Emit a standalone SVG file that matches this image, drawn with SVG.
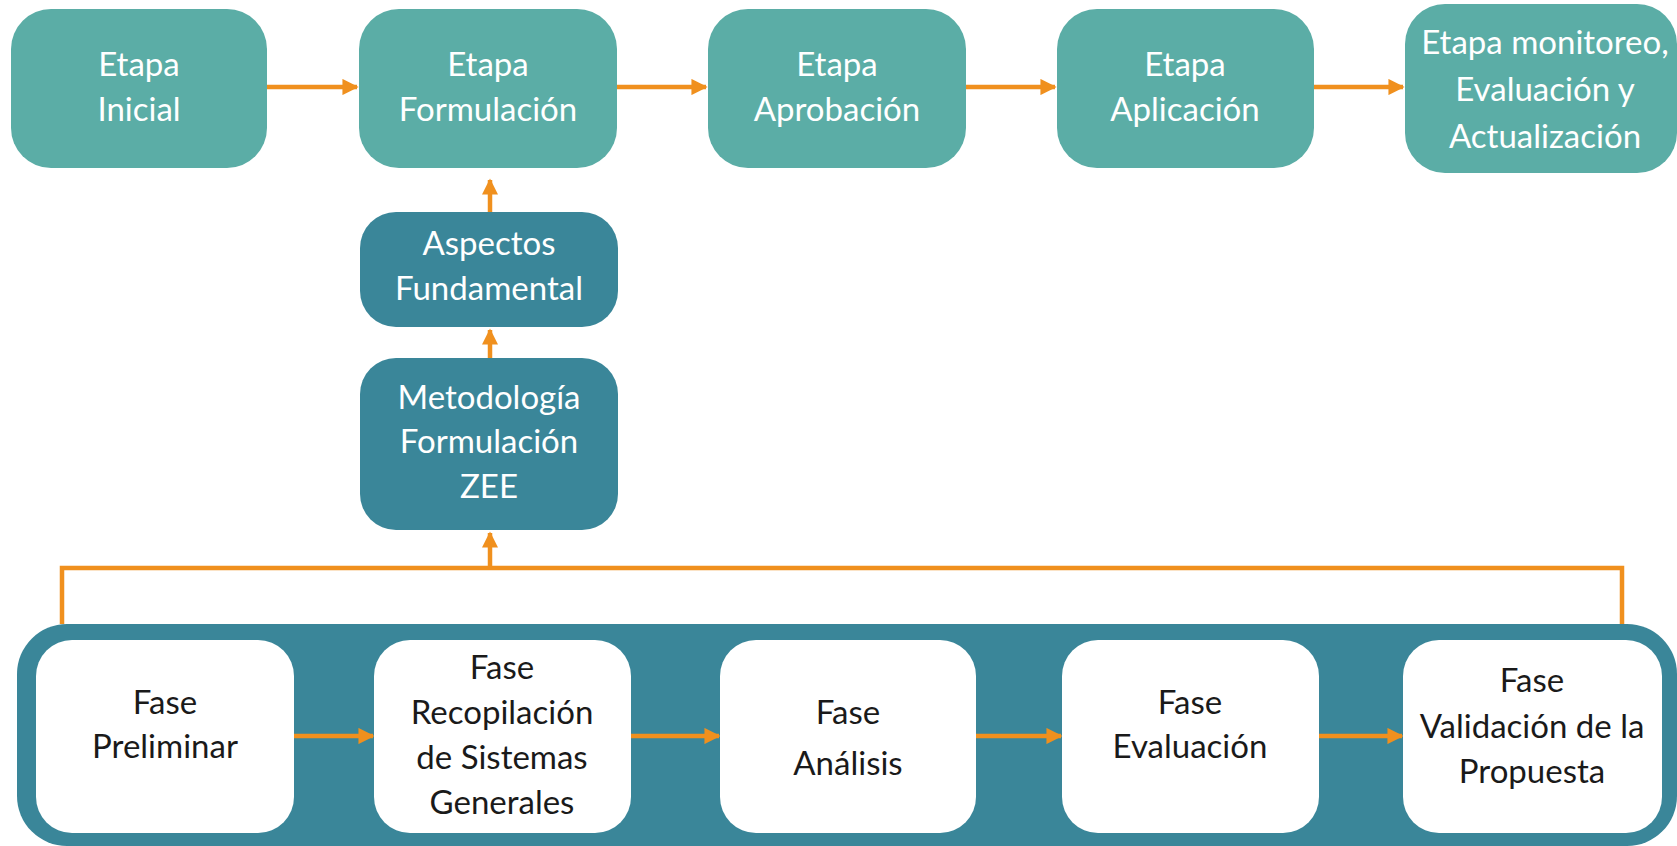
<svg xmlns="http://www.w3.org/2000/svg" width="1677" height="846" viewBox="0 0 1677 846">
<defs>
<style>
.top{fill:#5BADA6;}
.dark{fill:#3A8699;}
.white{fill:#FFFFFF;}
.t{font-family:Lato,"Open Sans","Liberation Sans",sans-serif;font-size:33px;text-anchor:middle;}
.tw{fill:#FFFFFF;}
.tb{fill:#1A1A1A;}
.con{stroke:#F0901E;stroke-width:4.5;fill:none;}
</style>
<marker id="ah" viewBox="0 0 10 10" refX="9" refY="5" markerWidth="3.6" markerHeight="3.6" orient="auto" markerUnits="strokeWidth">
<path d="M0,0 L10,5 L0,10 z" fill="#F0901E"/>
</marker>
</defs>
<rect width="1677" height="846" fill="#FFFFFF"/>
<g id="container">
<rect class="dark" x="17" y="624" width="1660" height="222" rx="50"/>
</g>
<g id="connectors">
<line class="con" x1="267" y1="87" x2="357" y2="87" marker-end="url(#ah)"/>
<line class="con" x1="617" y1="87" x2="706" y2="87" marker-end="url(#ah)"/>
<line class="con" x1="966" y1="87" x2="1055" y2="87" marker-end="url(#ah)"/>
<line class="con" x1="1314" y1="87" x2="1403" y2="87" marker-end="url(#ah)"/>
<line class="con" x1="490" y1="212" x2="490" y2="180" marker-end="url(#ah)"/>
<line class="con" x1="490" y1="358" x2="490" y2="330" marker-end="url(#ah)"/>
<line class="con" x1="490" y1="568" x2="490" y2="533" marker-end="url(#ah)"/>
<polyline class="con" points="62,624 62,568 1622,568 1622,624"/>
<line class="con" x1="294" y1="736" x2="373" y2="736" marker-end="url(#ah)"/>
<line class="con" x1="631" y1="736" x2="719" y2="736" marker-end="url(#ah)"/>
<line class="con" x1="976" y1="736" x2="1061" y2="736" marker-end="url(#ah)"/>
<line class="con" x1="1319" y1="736" x2="1402" y2="736" marker-end="url(#ah)"/>
</g>
<g id="etapa-inicial">
<rect class="top" x="11" y="9" width="256" height="159" rx="40"/>
<text class="t tw" x="139" y="76">Etapa</text>
<text class="t tw" x="139" y="121">Inicial</text>
</g>
<g id="etapa-formulacion">
<rect class="top" x="359" y="9" width="258" height="159" rx="40"/>
<text class="t tw" x="488" y="76">Etapa</text>
<text class="t tw" x="488" y="121">Formulación</text>
</g>
<g id="etapa-aprobacion">
<rect class="top" x="708" y="9" width="258" height="159" rx="40"/>
<text class="t tw" x="837" y="76">Etapa</text>
<text class="t tw" x="837" y="121">Aprobación</text>
</g>
<g id="etapa-aplicacion">
<rect class="top" x="1057" y="9" width="257" height="159" rx="40"/>
<text class="t tw" x="1185" y="76">Etapa</text>
<text class="t tw" x="1185" y="121">Aplicación</text>
</g>
<g id="etapa-monitoreo">
<rect class="top" x="1405" y="4" width="272" height="169" rx="40"/>
<text class="t tw" x="1545" y="54">Etapa monitoreo,</text>
<text class="t tw" x="1545" y="101">Evaluación y</text>
<text class="t tw" x="1545" y="148">Actualización</text>
</g>
<g id="aspectos">
<rect class="dark" x="360" y="212" width="258" height="115" rx="36"/>
<text class="t tw" x="489" y="255">Aspectos</text>
<text class="t tw" x="489" y="300">Fundamental</text>
</g>
<g id="metodologia">
<rect class="dark" x="360" y="358" width="258" height="172" rx="36"/>
<text class="t tw" x="489" y="409">Metodología</text>
<text class="t tw" x="489" y="453">Formulación</text>
<text class="t tw" x="489" y="498">ZEE</text>
</g>
<g id="fase-preliminar">
<rect class="white" x="36" y="640" width="258" height="193" rx="36"/>
<text class="t tb" x="165" y="714">Fase</text>
<text class="t tb" x="165" y="758">Preliminar</text>
</g>
<g id="fase-recopilacion">
<rect class="white" x="374" y="640" width="257" height="193" rx="36"/>
<text class="t tb" x="502" y="679">Fase</text>
<text class="t tb" x="502" y="724">Recopilación</text>
<text class="t tb" x="502" y="769">de Sistemas</text>
<text class="t tb" x="502" y="814">Generales</text>
</g>
<g id="fase-analisis">
<rect class="white" x="720" y="640" width="256" height="193" rx="36"/>
<text class="t tb" x="848" y="724">Fase</text>
<text class="t tb" x="848" y="775">Análisis</text>
</g>
<g id="fase-evaluacion">
<rect class="white" x="1062" y="640" width="257" height="193" rx="36"/>
<text class="t tb" x="1190" y="714">Fase</text>
<text class="t tb" x="1190" y="758">Evaluación</text>
</g>
<g id="fase-validacion">
<rect class="white" x="1403" y="640" width="259" height="193" rx="36"/>
<text class="t tb" x="1532" y="692">Fase</text>
<text class="t tb" x="1532" y="738">Validación de la</text>
<text class="t tb" x="1532" y="783">Propuesta</text>
</g>
</svg>
